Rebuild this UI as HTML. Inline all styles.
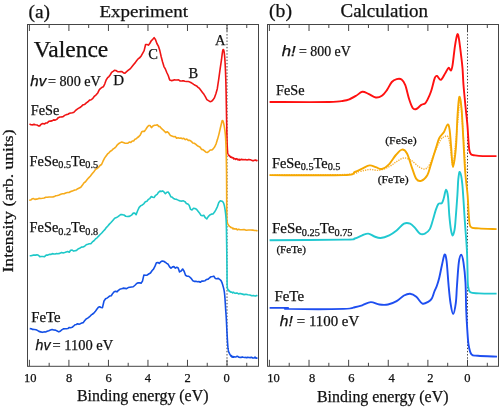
<!DOCTYPE html>
<html><head><meta charset="utf-8"><style>
html,body{margin:0;padding:0;background:#fff;width:504px;height:407px;overflow:hidden}
svg{display:block;will-change:transform}
</style></head><body>
<svg width="504" height="407" viewBox="0 0 504 407">
<rect width="504" height="407" fill="#fff"/>
<rect x="27.5" y="24.5" width="231.0" height="341.8" fill="none" stroke="#454545" stroke-width="1"/>
<line x1="246.76" y1="24.5" x2="246.76" y2="28.0" stroke="#454545" stroke-width="1"/>
<line x1="246.76" y1="366.3" x2="246.76" y2="362.8" stroke="#454545" stroke-width="1"/>
<line x1="227.00" y1="24.5" x2="227.00" y2="31.0" stroke="#454545" stroke-width="1"/>
<line x1="227.00" y1="366.3" x2="227.00" y2="359.8" stroke="#454545" stroke-width="1"/>
<line x1="207.24" y1="24.5" x2="207.24" y2="28.0" stroke="#454545" stroke-width="1"/>
<line x1="207.24" y1="366.3" x2="207.24" y2="362.8" stroke="#454545" stroke-width="1"/>
<line x1="187.48" y1="24.5" x2="187.48" y2="31.0" stroke="#454545" stroke-width="1"/>
<line x1="187.48" y1="366.3" x2="187.48" y2="359.8" stroke="#454545" stroke-width="1"/>
<line x1="167.72" y1="24.5" x2="167.72" y2="28.0" stroke="#454545" stroke-width="1"/>
<line x1="167.72" y1="366.3" x2="167.72" y2="362.8" stroke="#454545" stroke-width="1"/>
<line x1="147.96" y1="24.5" x2="147.96" y2="31.0" stroke="#454545" stroke-width="1"/>
<line x1="147.96" y1="366.3" x2="147.96" y2="359.8" stroke="#454545" stroke-width="1"/>
<line x1="128.20" y1="24.5" x2="128.20" y2="28.0" stroke="#454545" stroke-width="1"/>
<line x1="128.20" y1="366.3" x2="128.20" y2="362.8" stroke="#454545" stroke-width="1"/>
<line x1="108.44" y1="24.5" x2="108.44" y2="31.0" stroke="#454545" stroke-width="1"/>
<line x1="108.44" y1="366.3" x2="108.44" y2="359.8" stroke="#454545" stroke-width="1"/>
<line x1="88.68" y1="24.5" x2="88.68" y2="28.0" stroke="#454545" stroke-width="1"/>
<line x1="88.68" y1="366.3" x2="88.68" y2="362.8" stroke="#454545" stroke-width="1"/>
<line x1="68.92" y1="24.5" x2="68.92" y2="31.0" stroke="#454545" stroke-width="1"/>
<line x1="68.92" y1="366.3" x2="68.92" y2="359.8" stroke="#454545" stroke-width="1"/>
<line x1="49.16" y1="24.5" x2="49.16" y2="28.0" stroke="#454545" stroke-width="1"/>
<line x1="49.16" y1="366.3" x2="49.16" y2="362.8" stroke="#454545" stroke-width="1"/>
<line x1="29.40" y1="24.5" x2="29.40" y2="31.0" stroke="#454545" stroke-width="1"/>
<line x1="29.40" y1="366.3" x2="29.40" y2="359.8" stroke="#454545" stroke-width="1"/>
<line x1="227.00" y1="24.5" x2="227.00" y2="366.3" stroke="#404040" stroke-width="1" stroke-dasharray="1.4 1.8"/>
<rect x="267.5" y="24.5" width="231.0" height="341.8" fill="none" stroke="#454545" stroke-width="1"/>
<line x1="487.31" y1="24.5" x2="487.31" y2="28.0" stroke="#454545" stroke-width="1"/>
<line x1="487.31" y1="366.3" x2="487.31" y2="362.8" stroke="#454545" stroke-width="1"/>
<line x1="467.50" y1="24.5" x2="467.50" y2="31.0" stroke="#454545" stroke-width="1"/>
<line x1="467.50" y1="366.3" x2="467.50" y2="359.8" stroke="#454545" stroke-width="1"/>
<line x1="447.69" y1="24.5" x2="447.69" y2="28.0" stroke="#454545" stroke-width="1"/>
<line x1="447.69" y1="366.3" x2="447.69" y2="362.8" stroke="#454545" stroke-width="1"/>
<line x1="427.88" y1="24.5" x2="427.88" y2="31.0" stroke="#454545" stroke-width="1"/>
<line x1="427.88" y1="366.3" x2="427.88" y2="359.8" stroke="#454545" stroke-width="1"/>
<line x1="408.07" y1="24.5" x2="408.07" y2="28.0" stroke="#454545" stroke-width="1"/>
<line x1="408.07" y1="366.3" x2="408.07" y2="362.8" stroke="#454545" stroke-width="1"/>
<line x1="388.26" y1="24.5" x2="388.26" y2="31.0" stroke="#454545" stroke-width="1"/>
<line x1="388.26" y1="366.3" x2="388.26" y2="359.8" stroke="#454545" stroke-width="1"/>
<line x1="368.45" y1="24.5" x2="368.45" y2="28.0" stroke="#454545" stroke-width="1"/>
<line x1="368.45" y1="366.3" x2="368.45" y2="362.8" stroke="#454545" stroke-width="1"/>
<line x1="348.64" y1="24.5" x2="348.64" y2="31.0" stroke="#454545" stroke-width="1"/>
<line x1="348.64" y1="366.3" x2="348.64" y2="359.8" stroke="#454545" stroke-width="1"/>
<line x1="328.83" y1="24.5" x2="328.83" y2="28.0" stroke="#454545" stroke-width="1"/>
<line x1="328.83" y1="366.3" x2="328.83" y2="362.8" stroke="#454545" stroke-width="1"/>
<line x1="309.02" y1="24.5" x2="309.02" y2="31.0" stroke="#454545" stroke-width="1"/>
<line x1="309.02" y1="366.3" x2="309.02" y2="359.8" stroke="#454545" stroke-width="1"/>
<line x1="289.21" y1="24.5" x2="289.21" y2="28.0" stroke="#454545" stroke-width="1"/>
<line x1="289.21" y1="366.3" x2="289.21" y2="362.8" stroke="#454545" stroke-width="1"/>
<line x1="269.40" y1="24.5" x2="269.40" y2="31.0" stroke="#454545" stroke-width="1"/>
<line x1="269.40" y1="366.3" x2="269.40" y2="359.8" stroke="#454545" stroke-width="1"/>
<line x1="467.50" y1="24.5" x2="467.50" y2="366.3" stroke="#404040" stroke-width="1" stroke-dasharray="1.4 1.8"/>
<path d="M29.50,123.90 L31.04,124.82 L32.64,124.86 L34.06,124.37 L35.45,124.68 L36.95,124.93 L38.38,125.91 L39.70,125.85 L41.17,124.19 L42.77,123.49 L44.29,123.94 L45.85,123.05 L47.24,122.92 L48.86,121.33 L50.40,121.10 L52.00,120.86 L53.61,119.89 L55.19,120.13 L56.75,119.37 L58.31,117.66 L59.89,116.95 L61.50,116.84 L63.10,116.62 L64.70,115.40 L66.30,114.63 L67.93,114.27 L69.58,113.27 L71.03,112.98 L72.49,112.82 L73.89,112.21 L75.34,110.69 L76.94,109.35 L78.35,108.39 L79.95,107.58 L81.38,106.34 L83.00,104.81 L84.69,104.41 L86.34,102.86 L87.96,101.78 L89.58,100.10 L91.20,99.74 L92.88,98.28 L94.58,96.10 L96.14,94.85 L97.77,92.89 L99.35,89.61 L100.68,88.31 L102.04,87.31 L103.40,86.76 L104.79,83.79 L106.16,80.01 L107.66,77.68 L108.97,76.55 L110.29,74.74 L111.62,72.47 L113.12,71.41 L114.43,70.38 L115.89,70.54 L117.61,71.63 L119.26,71.74 L120.67,71.44 L122.00,71.65 L123.56,72.86 L125.01,73.10 L126.36,71.91 L127.76,70.73 L129.10,69.63 L130.44,68.63 L131.88,66.80 L133.46,64.77 L135.09,62.87 L136.77,60.45 L138.47,58.56 L139.93,57.49 L141.34,55.69 L142.76,53.02 L144.13,50.59 L145.60,44.54 L146.96,44.56 L148.40,45.13 L149.88,43.26 L151.27,40.76 L152.75,39.32 L154.10,37.71 L155.45,39.50 L156.89,43.51 L158.36,46.11 L159.81,50.56 L161.20,56.75 L162.60,61.98 L163.96,66.56 L165.45,69.20 L166.90,72.75 L168.22,75.52 L169.69,80.11 L171.23,80.59 L172.75,80.42 L174.31,79.83 L175.73,79.95 L177.10,80.00 L178.54,79.84 L180.18,80.99 L182.12,80.91 L183.48,80.69 L184.80,81.21 L186.54,81.48 L188.04,81.57 L189.41,81.84 L190.80,82.54 L192.24,83.42 L193.68,84.39 L195.12,85.29 L196.57,85.92 L198.06,87.30 L199.50,88.48 L200.83,90.24 L202.45,92.40 L203.94,94.31 L205.31,96.59 L206.87,99.60 L208.46,100.59 L210.06,101.62 L211.69,101.18 L213.00,99.84 L214.44,97.80 L215.88,93.82 L217.30,88.68 L218.70,79.27 L220.13,68.97 L221.47,59.98 L222.05,55.11 L222.25,53.63 L222.44,52.29 L222.63,51.17 L222.82,50.32 L223.00,49.80 L223.17,49.57 L223.35,49.54 L223.51,49.70 L223.68,50.06 L223.84,50.60 L224.00,51.33 L224.16,52.23 L224.31,53.32 L224.46,54.57 L224.60,56.00 L224.74,57.61 L224.87,59.40 L225.00,61.39 L225.13,63.55 L225.25,65.89 L225.37,68.39 L225.48,71.06 L225.59,73.89 L225.70,76.87 L225.80,80.00 L225.90,83.42 L225.99,87.22 L226.08,91.30 L226.16,95.57 L226.24,99.94 L226.31,104.31 L226.39,108.60 L226.46,112.70 L226.53,116.54 L226.60,120.00 L226.67,123.18 L226.73,126.22 L226.79,129.12 L226.84,131.87 L226.90,134.47 L226.96,136.91 L227.01,139.19 L227.07,141.30 L227.13,143.24 L227.20,145.00 L227.27,146.54 L227.33,147.84 L227.39,148.94 L227.45,149.85 L227.51,150.62 L227.58,151.29 L227.67,151.87 L227.76,152.42 L227.87,152.95 L228.00,153.50 L228.15,154.03 L228.30,154.47 L228.47,154.84 L228.65,155.15 L228.84,155.42 L229.05,155.48 L229.27,155.39 L229.50,155.69 L229.74,156.30 L230.00,156.13 L230.27,156.48 L230.55,157.18 L230.85,157.09 L231.15,157.13 L231.47,157.48 L231.81,157.15 L232.16,157.71 L232.52,157.90 L232.90,157.80 L233.30,157.87 L233.72,158.90 L234.16,158.62 L234.63,158.45 L235.11,159.03 L235.61,159.41 L236.11,158.67 L236.61,158.79 L237.12,159.04 L237.61,159.77 L238.10,159.23 L238.54,159.87 L238.90,159.87 L239.23,159.72 L239.55,159.35 L239.89,160.15 L240.27,159.93 L240.74,159.60 L241.31,159.27 L242.02,159.74 L242.90,159.48 L244.03,159.73 L245.43,159.52 L247.02,159.95 L248.74,159.42 L250.50,159.78 L252.24,160.61 L253.88,160.61 L255.36,160.07 L256.59,160.74 L257.50,160.19" fill="none" stroke="#f01414" stroke-width="1.6" stroke-linejoin="round"/>
<path d="M29.20,200.30 L30.64,200.05 L32.13,198.82 L33.60,198.64 L34.91,199.34 L36.22,199.13 L37.61,198.94 L39.14,198.37 L40.79,198.50 L42.48,198.28 L44.15,198.01 L45.80,197.29 L47.44,197.31 L49.10,196.98 L50.78,197.03 L52.46,196.99 L54.14,196.61 L55.81,195.84 L57.46,195.43 L59.10,194.90 L60.75,194.24 L62.40,193.75 L64.05,193.70 L65.70,193.00 L67.38,192.49 L69.07,192.44 L70.69,191.49 L72.18,191.11 L73.59,190.47 L74.89,189.94 L76.44,189.68 L77.76,188.69 L79.31,187.98 L80.78,187.27 L82.32,185.34 L83.93,182.86 L85.50,181.73 L87.00,179.87 L88.70,177.83 L90.44,176.00 L92.13,173.85 L93.86,171.80 L95.54,169.36 L97.11,168.45 L98.60,167.31 L99.99,165.48 L101.54,164.51 L103.01,161.21 L104.70,157.89 L106.08,155.92 L107.55,153.91 L108.96,152.79 L110.34,151.17 L111.71,150.56 L113.10,148.94 L114.54,148.15 L115.99,146.69 L117.37,144.85 L118.96,143.46 L120.35,142.61 L121.76,141.95 L123.19,142.49 L124.69,143.11 L126.45,143.18 L127.89,143.17 L129.28,142.08 L130.86,142.34 L132.27,141.03 L133.64,140.92 L134.98,139.13 L136.28,138.66 L137.60,137.49 L138.92,136.50 L140.30,134.93 L141.76,131.83 L143.07,131.37 L144.45,131.33 L145.81,129.37 L147.14,127.25 L148.68,125.47 L150.02,125.49 L151.46,127.63 L152.90,126.05 L154.51,125.28 L155.91,125.25 L157.30,124.79 L158.69,126.37 L159.99,126.63 L161.37,128.47 L162.98,129.76 L164.58,131.38 L165.88,132.59 L167.21,131.74 L168.53,132.79 L169.85,134.83 L171.17,135.78 L172.53,136.20 L173.90,136.71 L175.26,136.48 L176.60,138.21 L178.08,137.80 L179.49,138.25 L180.88,138.10 L182.40,138.79 L183.75,138.29 L185.34,139.62 L186.77,139.04 L188.29,140.38 L189.80,140.27 L191.31,141.39 L192.83,142.99 L194.26,143.24 L195.92,144.32 L197.37,145.81 L198.73,146.41 L200.16,147.21 L201.50,149.34 L202.89,149.61 L204.48,150.86 L205.97,152.18 L207.44,152.45 L208.87,151.29 L210.21,149.97 L211.74,150.02 L213.20,148.88 L214.77,146.76 L216.20,143.59 L217.52,139.35 L218.91,134.35 L220.32,128.29 L221.64,122.70 L222.02,121.06 L222.21,120.68 L222.40,120.50 L222.59,120.52 L222.77,120.70 L222.96,121.02 L223.14,121.47 L223.32,122.03 L223.51,122.70 L223.69,123.45 L223.86,124.28 L224.03,125.16 L224.20,126.10 L224.37,127.05 L224.53,128.02 L224.69,129.04 L224.86,130.12 L225.01,131.30 L225.16,132.60 L225.31,134.06 L225.45,135.69 L225.58,137.53 L225.70,139.60 L225.81,141.89 L225.91,144.36 L226.01,147.02 L226.09,149.84 L226.17,152.83 L226.25,155.98 L226.32,159.27 L226.38,162.72 L226.44,166.29 L226.50,170.00 L226.55,174.08 L226.59,178.66 L226.61,183.59 L226.64,188.72 L226.66,193.90 L226.68,198.96 L226.70,203.76 L226.72,208.13 L226.76,211.93 L226.80,215.00 L226.84,217.31 L226.86,219.02 L226.88,220.22 L226.90,221.02 L226.93,221.52 L226.98,221.81 L227.05,222.01 L227.16,222.20 L227.30,222.50 L227.50,223.00 L227.74,223.62 L228.01,224.20 L228.30,224.74 L228.63,225.26 L228.99,225.74 L229.38,226.41 L229.81,226.58 L230.27,226.70 L230.76,227.54 L231.30,227.50 L231.84,227.56 L232.35,228.19 L232.87,228.87 L233.41,228.23 L234.01,228.89 L234.68,228.82 L235.45,229.09 L236.34,228.81 L237.38,229.85 L238.60,229.24 L240.11,229.79 L241.94,229.75 L244.01,229.49 L246.23,230.26 L248.51,229.97 L250.74,230.03 L252.85,230.16 L254.74,230.43 L256.32,230.47 L257.50,231.15" fill="none" stroke="#f6ab1a" stroke-width="1.6" stroke-linejoin="round"/>
<path d="M29.70,255.81 L31.04,255.81 L32.97,255.13 L34.37,255.16 L35.70,255.14 L37.02,254.77 L38.40,255.19 L39.79,256.64 L41.11,256.45 L42.82,256.57 L44.51,256.68 L46.18,255.14 L47.86,255.09 L49.81,254.35 L51.18,254.33 L52.54,253.61 L53.86,253.96 L55.21,254.07 L56.57,253.56 L57.91,253.68 L59.80,253.39 L61.54,252.46 L63.17,252.93 L64.71,252.48 L66.19,251.97 L67.64,251.56 L69.28,252.22 L70.62,250.25 L72.17,250.16 L73.60,251.08 L75.20,250.69 L76.56,250.36 L78.00,249.01 L79.63,248.33 L81.39,247.11 L83.01,246.97 L84.67,246.23 L86.22,244.77 L87.75,244.28 L89.28,243.75 L90.82,243.67 L92.37,241.91 L93.94,240.76 L95.50,238.98 L97.06,237.77 L98.63,236.12 L100.18,234.49 L101.72,233.04 L103.25,231.20 L104.78,229.67 L106.31,227.59 L107.83,226.03 L109.38,224.13 L111.00,222.54 L112.79,220.48 L114.68,218.28 L116.47,217.60 L117.98,216.58 L119.31,215.59 L120.91,214.46 L122.36,214.66 L124.00,214.99 L125.76,216.25 L127.41,216.46 L129.05,216.40 L130.41,215.80 L131.80,214.89 L133.30,213.14 L134.74,213.13 L136.10,214.63 L137.60,210.79 L139.17,207.30 L140.91,205.64 L142.34,204.92 L143.79,203.80 L145.35,201.67 L146.91,201.14 L148.30,199.40 L149.80,198.59 L151.32,196.59 L152.74,197.23 L154.05,197.49 L155.62,195.32 L157.14,194.35 L158.51,192.31 L159.90,191.13 L161.28,191.40 L162.61,190.90 L163.94,191.89 L165.40,193.70 L166.86,192.25 L168.19,192.05 L169.53,193.98 L170.90,196.80 L172.22,197.16 L173.53,198.49 L174.88,199.08 L176.24,199.18 L177.60,199.86 L178.94,200.46 L180.25,201.02 L181.85,201.08 L183.40,200.84 L184.91,201.62 L186.38,203.41 L187.74,203.89 L189.13,205.24 L190.60,209.37 L191.97,209.95 L193.48,208.29 L194.99,208.56 L196.47,209.26 L198.06,211.26 L199.45,212.96 L200.80,215.21 L202.33,215.76 L203.80,215.27 L205.30,217.71 L206.80,218.95 L208.24,216.60 L209.80,214.94 L211.34,214.17 L212.96,214.01 L214.36,212.32 L215.83,209.93 L217.30,206.87 L218.80,202.60 L220.32,200.74 L221.88,201.32 L222.17,201.27 L222.44,201.46 L222.70,201.70 L222.94,201.97 L223.16,202.28 L223.36,202.64 L223.56,203.04 L223.74,203.49 L223.92,204.02 L224.09,204.61 L224.26,205.28 L224.43,206.04 L224.60,206.90 L224.77,207.85 L224.94,208.87 L225.11,209.97 L225.28,211.16 L225.44,212.41 L225.59,213.74 L225.74,215.15 L225.87,216.63 L225.99,218.18 L226.10,219.80 L226.19,221.48 L226.27,223.22 L226.33,225.01 L226.38,226.88 L226.42,228.83 L226.46,230.86 L226.49,232.99 L226.52,235.22 L226.56,237.55 L226.60,240.00 L226.64,242.66 L226.69,245.58 L226.73,248.69 L226.77,251.92 L226.81,255.20 L226.85,258.47 L226.89,261.65 L226.93,264.68 L226.96,267.48 L227.00,270.00 L227.03,272.29 L227.04,274.45 L227.05,276.48 L227.06,278.38 L227.07,280.16 L227.08,281.80 L227.11,283.30 L227.15,284.67 L227.21,285.91 L227.30,287.00 L227.41,287.90 L227.54,288.59 L227.69,289.10 L227.85,289.46 L228.03,289.71 L228.21,289.88 L228.40,290.01 L228.60,290.13 L228.80,290.28 L229.00,290.50 L229.17,291.25 L229.30,290.68 L229.41,291.09 L229.52,291.41 L229.65,291.26 L229.82,291.45 L230.05,291.53 L230.36,291.74 L230.77,292.14 L231.30,291.98 L231.94,292.24 L232.66,292.85 L233.45,292.21 L234.32,292.98 L235.26,293.34 L236.28,293.05 L237.36,293.14 L238.51,293.96 L239.72,293.52 L241.00,293.66 L242.45,294.13 L244.13,294.64 L245.97,294.21 L247.90,294.69 L249.86,294.93 L251.76,295.70 L253.55,295.47 L255.15,296.12 L256.49,295.52 L257.50,295.82" fill="none" stroke="#1ec8c8" stroke-width="1.6" stroke-linejoin="round"/>
<path d="M29.70,328.61 L31.32,328.81 L32.64,329.41 L34.32,329.48 L36.03,329.71 L37.41,330.37 L38.93,331.38 L40.59,331.86 L42.29,332.33 L43.94,331.90 L45.56,332.02 L47.18,331.31 L48.80,330.74 L50.44,330.10 L52.10,329.58 L53.75,329.98 L55.44,330.14 L57.19,331.01 L58.85,331.85 L60.21,331.28 L61.74,329.90 L63.39,328.89 L65.12,328.69 L66.50,328.71 L67.85,328.54 L69.22,327.46 L70.57,327.79 L72.17,327.32 L73.47,326.22 L75.00,324.75 L76.31,324.55 L77.64,323.75 L78.99,324.24 L80.41,323.66 L81.82,322.93 L83.25,322.60 L84.59,320.70 L86.14,318.92 L87.69,318.15 L89.30,316.97 L90.78,315.46 L92.24,314.24 L93.71,313.23 L95.21,311.58 L96.82,309.22 L98.39,307.35 L99.70,306.74 L101.09,307.45 L102.47,307.68 L104.00,301.04 L105.58,298.79 L106.99,298.11 L108.30,297.17 L109.84,295.96 L111.26,295.76 L112.73,293.41 L114.15,291.78 L115.54,291.37 L116.90,291.85 L118.40,290.35 L120.15,289.03 L121.60,288.82 L123.21,288.15 L124.91,288.38 L126.60,288.64 L128.25,287.56 L129.89,287.29 L131.55,287.03 L133.23,286.74 L134.97,285.24 L136.66,283.52 L138.20,282.86 L139.70,282.72 L141.06,283.19 L142.48,281.09 L143.85,275.16 L145.60,275.23 L147.10,275.12 L148.67,274.01 L150.45,273.00 L152.16,270.46 L153.50,269.07 L155.03,266.14 L156.40,262.77 L157.90,262.53 L159.25,263.44 L160.67,261.86 L162.18,261.06 L163.67,261.28 L165.20,262.24 L166.74,263.43 L168.17,264.30 L169.63,266.84 L170.98,268.27 L172.53,266.89 L173.92,266.63 L175.36,268.12 L176.83,267.27 L178.18,267.96 L179.54,271.92 L181.14,271.02 L182.64,268.98 L184.11,271.25 L185.54,275.25 L186.93,276.20 L188.40,276.18 L189.92,277.21 L191.42,278.68 L192.92,280.85 L194.51,281.41 L195.92,281.34 L197.37,281.70 L198.85,281.48 L200.26,282.29 L201.75,281.07 L203.45,281.08 L205.09,280.72 L206.62,279.44 L208.13,279.15 L209.66,277.73 L211.18,276.67 L212.50,276.45 L213.85,276.16 L215.24,278.44 L216.68,278.81 L218.26,278.38 L219.59,279.29 L221.03,280.64 L222.09,282.94 L222.25,283.44 L222.42,283.99 L222.60,284.60 L222.79,285.25 L222.98,285.91 L223.18,286.61 L223.39,287.34 L223.59,288.12 L223.79,288.96 L223.98,289.88 L224.16,290.89 L224.34,291.99 L224.50,293.20 L224.65,294.58 L224.79,296.17 L224.93,297.90 L225.06,299.72 L225.18,301.60 L225.30,303.48 L225.41,305.30 L225.51,307.03 L225.61,308.62 L225.70,310.00 L225.78,311.16 L225.86,312.13 L225.92,312.96 L225.97,313.68 L226.02,314.36 L226.07,315.04 L226.12,315.75 L226.18,316.55 L226.23,317.49 L226.30,318.60 L226.37,319.89 L226.44,321.30 L226.51,322.82 L226.59,324.42 L226.66,326.07 L226.74,327.76 L226.82,329.46 L226.91,331.14 L227.00,332.80 L227.10,334.40 L227.20,336.00 L227.29,337.67 L227.38,339.37 L227.47,341.08 L227.57,342.76 L227.69,344.40 L227.81,345.96 L227.95,347.41 L228.11,348.74 L228.30,349.90 L228.50,350.91 L228.72,351.79 L228.95,352.56 L229.19,352.72 L229.45,353.55 L229.73,354.05 L230.03,354.46 L230.36,354.89 L230.72,355.96 L231.10,355.51 L231.50,355.70 L231.90,356.87 L232.32,356.60 L232.76,357.14 L233.23,356.53 L233.74,357.09 L234.29,356.81 L234.90,356.96 L235.56,356.92 L236.30,356.69 L237.12,356.32 L238.02,356.52 L239.00,357.32 L240.02,357.41 L241.09,357.50 L242.19,356.91 L243.31,357.32 L244.42,357.53 L245.52,357.41 L246.60,357.65 L247.71,357.37 L248.92,357.55 L250.17,357.63 L251.44,357.20 L252.69,357.95 L253.90,358.02 L255.01,357.07 L256.01,358.08 L256.85,358.09 L257.50,357.79" fill="none" stroke="#1450e6" stroke-width="1.6" stroke-linejoin="round"/>
<path d="M269.60,102.00 C279.48,102.00 316.57,102.20 328.90,102.00 C341.23,101.80 340.08,101.30 343.60,100.80 C347.12,100.30 347.92,99.83 350.00,99.00 C352.08,98.17 354.05,97.00 356.10,95.80 C358.15,94.60 360.25,92.13 362.30,91.80 C364.35,91.47 366.15,92.85 368.40,93.80 C370.65,94.75 373.55,97.17 375.80,97.50 C378.05,97.83 380.05,97.03 381.90,95.80 C383.75,94.57 385.25,92.40 386.90,90.10 C388.55,87.80 390.17,83.83 391.80,82.00 C393.43,80.17 395.07,79.52 396.70,79.10 C398.33,78.68 400.17,78.48 401.60,79.50 C403.03,80.52 404.07,82.00 405.30,85.20 C406.53,88.40 407.77,94.90 409.00,98.70 C410.23,102.50 411.48,106.28 412.70,108.00 C413.92,109.72 414.87,109.52 416.30,109.00 C417.73,108.48 419.85,105.83 421.30,104.90 C422.75,103.97 423.98,104.23 425.00,103.40 C426.02,102.57 426.38,101.92 427.40,99.90 C428.42,97.88 429.87,94.98 431.10,91.30 C432.33,87.62 433.80,80.35 434.80,77.80 C435.80,75.25 436.08,75.67 437.10,76.00 C438.12,76.33 439.52,80.32 440.90,79.80 C442.28,79.28 444.12,74.90 445.40,72.90 C446.68,70.90 447.67,68.20 448.60,67.80 C449.53,67.40 450.33,70.98 451.00,70.50 C451.67,70.02 451.93,69.02 452.60,64.90 C453.27,60.78 454.20,50.90 455.00,45.80 C455.80,40.70 456.73,35.37 457.40,34.30 C458.07,33.23 458.42,36.15 459.00,39.40 C459.58,42.65 460.32,49.02 460.90,53.80 C461.48,58.58 462.07,62.90 462.50,68.10 C462.93,73.30 463.00,78.62 463.50,85.00 C464.00,91.38 464.85,99.75 465.50,106.40 C466.15,113.05 466.92,119.30 467.40,124.90 C467.88,130.50 468.08,135.82 468.40,140.00 C468.72,144.18 468.87,147.62 469.30,150.00 C469.73,152.38 470.05,153.40 471.00,154.30 C471.95,155.20 473.02,155.10 475.00,155.40 C476.98,155.70 479.32,155.98 482.90,156.10 C486.48,156.22 494.23,156.10 496.50,156.10" fill="none" stroke="#ff1010" stroke-width="1.9" stroke-linejoin="round"/>
<path d="M269.60,175.10 C282.17,175.00 329.98,175.10 345.00,174.50 C360.02,173.90 355.60,172.33 359.70,171.50 C363.80,170.67 366.32,169.70 369.60,169.50 C372.88,169.30 376.13,170.78 379.40,170.30 C382.67,169.82 386.33,168.03 389.20,166.60 C392.07,165.17 394.13,163.13 396.60,161.70 C399.07,160.27 401.55,158.20 404.00,158.00 C406.45,157.80 408.85,159.07 411.30,160.50 C413.75,161.93 416.43,165.18 418.70,166.60 C420.97,168.02 423.05,169.42 424.90,169.00 C426.75,168.58 427.97,167.37 429.80,164.10 C431.63,160.83 434.07,153.48 435.90,149.40 C437.73,145.32 439.45,141.67 440.80,139.60 C442.15,137.53 442.80,137.48 444.00,137.00 C445.20,136.52 446.93,134.88 448.00,136.70 C449.07,138.52 449.58,143.02 450.40,147.90 C451.22,152.78 452.12,166.00 452.90,166.00 C453.68,166.00 454.20,156.23 455.10,147.90 C456.00,139.57 457.57,124.15 458.30,116.00 C459.03,107.85 459.05,100.83 459.50,99.00 C459.95,97.17 460.22,96.83 461.00,105.00 C461.78,113.17 463.37,136.83 464.20,148.00 C465.03,159.17 465.70,168.00 466.00,172.00" fill="none" stroke="#f6b23a" stroke-width="1.4" stroke-dasharray="1.3 1.1"/>
<path d="M269.60,175.10 C281.93,175.10 329.40,175.62 343.60,175.10 C357.80,174.58 351.70,173.08 354.80,172.00 C357.90,170.92 359.73,169.70 362.20,168.60 C364.67,167.50 367.35,165.65 369.60,165.40 C371.85,165.15 373.65,166.50 375.70,167.10 C377.75,167.70 379.65,169.50 381.90,169.00 C384.15,168.50 386.87,166.43 389.20,164.10 C391.53,161.77 393.77,157.42 395.90,155.00 C398.03,152.58 400.15,149.85 402.00,149.60 C403.85,149.35 405.33,150.47 407.00,153.50 C408.67,156.53 410.45,163.57 412.00,167.80 C413.55,172.03 414.77,176.73 416.30,178.90 C417.83,181.07 419.37,181.42 421.20,180.80 C423.03,180.18 425.67,177.98 427.30,175.20 C428.93,172.42 429.55,168.65 431.00,164.10 C432.45,159.55 434.63,152.20 436.00,147.90 C437.37,143.60 437.87,140.95 439.20,138.30 C440.53,135.65 442.62,134.30 444.00,132.00 C445.38,129.70 446.57,124.90 447.50,124.50 C448.43,124.10 448.98,125.70 449.60,129.60 C450.22,133.50 450.65,141.67 451.20,147.90 C451.75,154.13 452.12,167.00 452.90,167.00 C453.68,167.00 455.13,156.40 455.90,147.90 C456.67,139.40 456.93,124.48 457.50,116.00 C458.07,107.52 458.63,98.33 459.30,97.00 C459.97,95.67 460.87,101.67 461.50,108.00 C462.13,114.33 462.48,124.33 463.10,135.00 C463.72,145.67 464.45,162.00 465.20,172.00 C465.95,182.00 467.00,187.83 467.60,195.00 C468.20,202.17 468.30,209.70 468.80,215.00 C469.30,220.30 468.92,224.57 470.60,226.80 C472.28,229.03 474.57,228.02 478.90,228.40 C483.23,228.78 493.65,228.98 496.60,229.10" fill="none" stroke="#f5a800" stroke-width="1.9" stroke-linejoin="round"/>
<path d="M269.60,240.30 C282.17,240.18 330.80,239.90 345.00,239.60 C359.20,239.30 351.93,239.22 354.80,238.50 C357.67,237.78 359.95,236.12 362.20,235.30 C364.45,234.48 366.25,233.40 368.30,233.60 C370.35,233.80 372.45,235.77 374.50,236.50 C376.55,237.23 378.15,238.20 380.60,238.00 C383.05,237.80 386.53,236.57 389.20,235.30 C391.87,234.03 394.13,232.33 396.60,230.40 C399.07,228.47 401.75,224.82 404.00,223.70 C406.25,222.58 408.27,223.00 410.10,223.70 C411.93,224.40 413.37,226.25 415.00,227.90 C416.63,229.55 418.25,232.65 419.90,233.60 C421.55,234.55 423.25,234.35 424.90,233.60 C426.55,232.85 428.43,231.48 429.80,229.10 C431.17,226.72 432.10,222.50 433.10,219.30 C434.10,216.10 434.90,212.48 435.80,209.90 C436.70,207.32 437.48,204.93 438.50,203.80 C439.52,202.67 441.00,204.12 441.90,203.10 C442.80,202.08 443.22,199.95 443.90,197.70 C444.58,195.45 445.32,189.77 446.00,189.60 C446.68,189.43 447.45,192.42 448.00,196.70 C448.55,200.98 448.80,209.75 449.30,215.30 C449.80,220.85 450.43,226.63 451.00,230.00 C451.57,233.37 452.12,235.50 452.70,235.50 C453.28,235.50 454.05,232.25 454.50,230.00 C454.95,227.75 454.92,227.83 455.40,222.00 C455.88,216.17 456.92,202.13 457.40,195.00 C457.88,187.87 457.88,183.03 458.30,179.20 C458.72,175.37 459.23,171.20 459.90,172.00 C460.57,172.80 461.47,175.67 462.30,184.00 C463.13,192.33 464.13,211.00 464.90,222.00 C465.67,233.00 466.47,242.00 466.90,250.00 C467.33,258.00 467.32,264.08 467.50,270.00 C467.68,275.92 467.53,281.78 468.00,285.50 C468.47,289.22 468.47,290.98 470.30,292.30 C472.13,293.62 474.62,293.18 479.00,293.40 C483.38,293.62 493.67,293.57 496.60,293.60" fill="none" stroke="#20c8d0" stroke-width="1.9" stroke-linejoin="round"/>
<path d="M269.60,307.90 C272.58,307.90 284.35,307.73 287.50,307.90 C290.65,308.07 279.15,308.73 288.50,308.90 C297.85,309.07 332.55,309.18 343.60,308.90 C354.65,308.62 351.70,307.80 354.80,307.20 C357.90,306.60 359.53,306.15 362.20,305.30 C364.87,304.45 367.93,302.23 370.80,302.10 C373.67,301.97 376.53,304.10 379.40,304.50 C382.27,304.90 385.13,305.07 388.00,304.50 C390.87,303.93 393.93,302.60 396.60,301.10 C399.27,299.60 401.75,296.73 404.00,295.50 C406.25,294.27 408.05,293.50 410.10,293.70 C412.15,293.90 414.25,295.05 416.30,296.70 C418.35,298.35 420.37,302.78 422.40,303.60 C424.43,304.42 426.93,302.45 428.50,301.60 C430.07,300.75 430.82,300.18 431.80,298.50 C432.78,296.82 433.57,293.58 434.40,291.50 C435.23,289.42 436.00,288.25 436.80,286.00 C437.60,283.75 438.35,281.45 439.20,278.00 C440.05,274.55 441.00,269.22 441.90,265.30 C442.80,261.38 443.82,255.18 444.60,254.50 C445.38,253.82 445.93,256.03 446.60,261.20 C447.27,266.37 447.95,278.53 448.60,285.50 C449.25,292.47 449.75,298.25 450.50,303.00 C451.25,307.75 452.22,314.00 453.10,314.00 C453.98,314.00 455.15,307.75 455.80,303.00 C456.45,298.25 456.50,292.23 457.00,285.50 C457.50,278.77 458.10,267.73 458.80,262.60 C459.50,257.47 460.42,254.70 461.20,254.70 C461.98,254.70 462.78,257.92 463.50,262.60 C464.22,267.28 465.05,274.90 465.50,282.80 C465.95,290.70 465.90,302.13 466.20,310.00 C466.50,317.87 466.90,324.17 467.30,330.00 C467.70,335.83 467.90,340.93 468.60,345.00 C469.30,349.07 469.95,352.62 471.50,354.40 C473.05,356.18 473.65,355.33 477.90,355.70 C482.15,356.07 493.82,356.45 497.00,356.60" fill="none" stroke="#1e4ef0" stroke-width="1.9" stroke-linejoin="round"/>
<g fill="#111" stroke="#111" stroke-width="0.25">
<text x="28.5" y="17.5" font-family="Liberation Serif" font-size="19" text-anchor="start" textLength="21.5" lengthAdjust="spacingAndGlyphs" >(a)</text>
<text x="99.5" y="16.7" font-family="Liberation Serif" font-size="17.5" text-anchor="start" textLength="88.5" lengthAdjust="spacingAndGlyphs" >Experiment</text>
<text x="269" y="17.3" font-family="Liberation Serif" font-size="19" text-anchor="start" textLength="23" lengthAdjust="spacingAndGlyphs" >(b)</text>
<text x="340.5" y="17.1" font-family="Liberation Serif" font-size="18" text-anchor="start" textLength="87.5" lengthAdjust="spacingAndGlyphs" >Calculation</text>
<text x="33.8" y="56.5" font-family="Liberation Serif" font-size="22.5" text-anchor="start" textLength="74.5" lengthAdjust="spacingAndGlyphs" >Valence</text>
<text x="30.3" y="85.5" font-family="Liberation Sans" font-size="14" text-anchor="start" textLength="16.0" lengthAdjust="spacingAndGlyphs" font-style="italic">hv</text><text x="48" y="85.5" font-family="Liberation Serif" font-size="14.5" text-anchor="start" textLength="52.8" lengthAdjust="spacingAndGlyphs" >= 800 eV</text>
<text x="113.3" y="85.3" font-family="Liberation Serif" font-size="15" text-anchor="start" >D</text>
<text x="148.3" y="59.3" font-family="Liberation Serif" font-size="14.5" text-anchor="start" >C</text>
<text x="188.4" y="77.7" font-family="Liberation Serif" font-size="14.5" text-anchor="start" >B</text>
<text x="215" y="45.4" font-family="Liberation Serif" font-size="14.5" text-anchor="start" >A</text>
<text x="30.8" y="115.3" font-family="Liberation Serif" font-size="14.5" text-anchor="start" textLength="28.5" lengthAdjust="spacingAndGlyphs" >FeSe</text>
<text x="29.6" y="165.9" font-family="Liberation Serif" font-size="14" textLength="68.5" lengthAdjust="spacingAndGlyphs">FeSe<tspan font-size="10" dy="2.5">0.5</tspan><tspan dy="-2.5">Te</tspan><tspan font-size="10" dy="2.5">0.5</tspan></text>
<text x="29.6" y="232.2" font-family="Liberation Serif" font-size="14" textLength="68.5" lengthAdjust="spacingAndGlyphs">FeSe<tspan font-size="10" dy="2.5">0.2</tspan><tspan dy="-2.5">Te</tspan><tspan font-size="10" dy="2.5">0.8</tspan></text>
<text x="31.2" y="322" font-family="Liberation Serif" font-size="14.5" text-anchor="start" textLength="29.3" lengthAdjust="spacingAndGlyphs" >FeTe</text>
<text x="35.5" y="349.6" font-family="Liberation Sans" font-size="14" text-anchor="start" textLength="15.0" lengthAdjust="spacingAndGlyphs" font-style="italic">hv</text><text x="52.5" y="349.6" font-family="Liberation Serif" font-size="14.5" text-anchor="start" textLength="60.7" lengthAdjust="spacingAndGlyphs" >= 1100 eV</text>
<text x="281.8" y="55.9" font-family="Liberation Sans" font-size="14" text-anchor="start" textLength="14.0" lengthAdjust="spacingAndGlyphs" font-style="italic">h!</text><text x="299" y="55.9" font-family="Liberation Serif" font-size="14.5" text-anchor="start" textLength="51.8" lengthAdjust="spacingAndGlyphs" >= 800 eV</text>
<text x="276" y="94.9" font-family="Liberation Serif" font-size="14.5" text-anchor="start" textLength="28.5" lengthAdjust="spacingAndGlyphs" >FeSe</text>
<text x="272" y="167.5" font-family="Liberation Serif" font-size="14" textLength="68.5" lengthAdjust="spacingAndGlyphs">FeSe<tspan font-size="10" dy="2.5">0.5</tspan><tspan dy="-2.5">Te</tspan><tspan font-size="10" dy="2.5">0.5</tspan></text>
<text x="385.2" y="144.3" font-family="Liberation Serif" font-size="10.5" text-anchor="start" textLength="31.5" lengthAdjust="spacingAndGlyphs" >(FeSe)</text>
<text x="377.7" y="182.6" font-family="Liberation Serif" font-size="10.5" text-anchor="start" textLength="31" lengthAdjust="spacingAndGlyphs" >(FeTe)</text>
<text x="272" y="233" font-family="Liberation Serif" font-size="14.5" textLength="80.5" lengthAdjust="spacingAndGlyphs">FeSe<tspan font-size="10" dy="2.5">0.25</tspan><tspan dy="-2.5">Te</tspan><tspan font-size="10" dy="2.5">0.75</tspan></text>
<text x="276.4" y="252.8" font-family="Liberation Serif" font-size="10.5" text-anchor="start" textLength="29.5" lengthAdjust="spacingAndGlyphs" >(FeTe)</text>
<text x="274.5" y="301.3" font-family="Liberation Serif" font-size="14.5" text-anchor="start" textLength="29.5" lengthAdjust="spacingAndGlyphs" >FeTe</text>
<text x="279.8" y="326.3" font-family="Liberation Sans" font-size="14" text-anchor="start" textLength="13.0" lengthAdjust="spacingAndGlyphs" font-style="italic">h!</text><text x="296.8" y="326.3" font-family="Liberation Serif" font-size="14.5" text-anchor="start" textLength="62.4" lengthAdjust="spacingAndGlyphs" >= 1100 eV</text>
<text x="30.25" y="381.7" font-family="Liberation Serif" font-size="12.5" text-anchor="middle" >10</text>
<text x="69" y="381.7" font-family="Liberation Serif" font-size="12.5" text-anchor="middle" >8</text>
<text x="108.5" y="381.7" font-family="Liberation Serif" font-size="12.5" text-anchor="middle" >6</text>
<text x="147.8" y="381.7" font-family="Liberation Serif" font-size="12.5" text-anchor="middle" >4</text>
<text x="187.7" y="381.7" font-family="Liberation Serif" font-size="12.5" text-anchor="middle" >2</text>
<text x="226.6" y="381.7" font-family="Liberation Serif" font-size="12.5" text-anchor="middle" >0</text>
<text x="273.4" y="381.7" font-family="Liberation Serif" font-size="12.5" text-anchor="middle" >10</text>
<text x="312" y="381.7" font-family="Liberation Serif" font-size="12.5" text-anchor="middle" >8</text>
<text x="351.4" y="381.7" font-family="Liberation Serif" font-size="12.5" text-anchor="middle" >6</text>
<text x="391.5" y="381.7" font-family="Liberation Serif" font-size="12.5" text-anchor="middle" >4</text>
<text x="430.3" y="381.7" font-family="Liberation Serif" font-size="12.5" text-anchor="middle" >2</text>
<text x="467.3" y="381.7" font-family="Liberation Serif" font-size="12.5" text-anchor="middle" >0</text>
<text x="77" y="400.6" font-family="Liberation Serif" font-size="16.5" text-anchor="start" textLength="131.5" lengthAdjust="spacingAndGlyphs" >Binding energy (eV)</text>
<text x="317" y="401.7" font-family="Liberation Serif" font-size="16.5" text-anchor="start" textLength="131.5" lengthAdjust="spacingAndGlyphs" >Binding energy (eV)</text>
<text x="0" y="0" transform="translate(12.8,272.5) rotate(-90)" font-family="Liberation Serif" font-size="15" textLength="143" lengthAdjust="spacingAndGlyphs">Intensity (arb. units)</text>
</g>
</svg>
</body></html>
